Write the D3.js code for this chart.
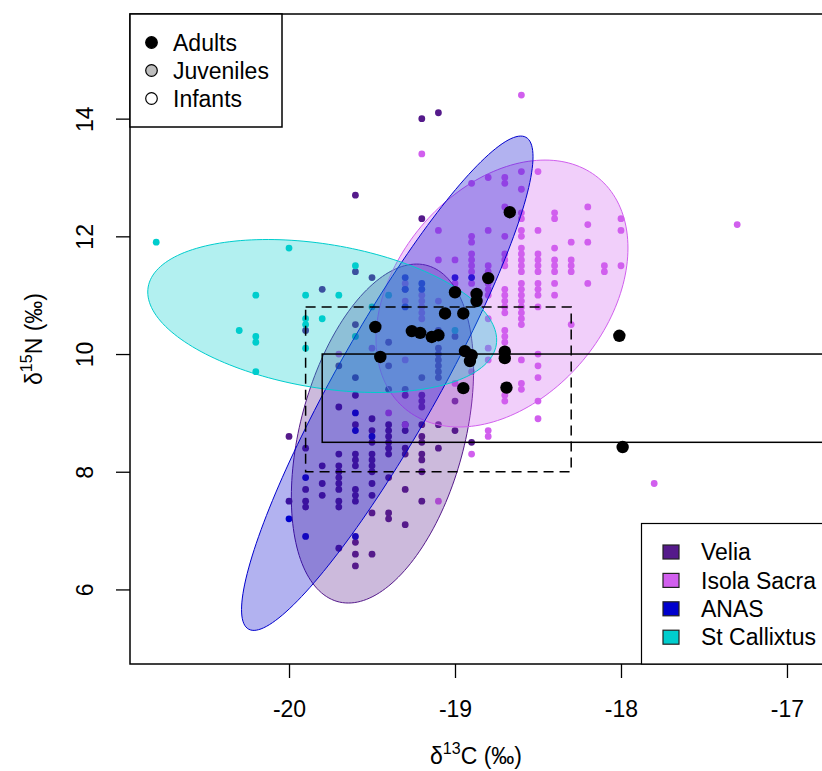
<!DOCTYPE html>
<html>
<head>
<meta charset="utf-8">
<script src="https://cdn.jsdelivr.net/npm/d3@7"></script>
<style>
  body { margin: 0; background: #fff; }
  text { font-family: "Liberation Sans", Arial, sans-serif; fill: #000; }
</style>
</head>
<body>
<svg id="chart" width="822" height="771"></svg>
<script>
// ---- axis settings ----
const xLimits = [-20.958, -16.789];
const yLimits = [4.733, 15.778];
const xTicks = [-20, -19, -18, -17];
const yTicks = [6, 8, 10, 12, 14];

// ---- sites ----
const siteNames  = ["Velia", "Isola Sacra", "ANAS", "St Callixtus"];
const siteColors = ["#551A8B", "#D15FEE", "#0000CD", "#00CDCD"];

// individual measurements [d13C, d15N]
const velia = [
  [-19.2,14.0],[-19.1,14.1],[-19.6,12.7],[-19.2,12.3],
  [-19.6,11.4],[-19.5,11.3],[-19.8,11.1],[-19.3,11.1],
  [-19.9,10.4],[-19.6,10.5],[-19.4,10.2],[-19.1,10.4],[-19.1,10.3],[-19.0,10.3],
  [-19.1,10.1],[-19.1,10.0],[-19.1,9.9],[-19.1,9.8],[-19.1,9.7],[-19.1,9.6],
  [-19.7,9.8],[-19.4,9.8],[-19.6,9.6],[-19.2,9.6],[-19.4,9.4],[-19.3,9.4],[-19.3,9.3],
  [-19.6,9.3],[-19.2,9.3],[-19.2,9.2],[-19.2,9.1],[-19.7,9.1],[-19.0,9.2],
  [-20.0,8.6],[-19.9,8.4],[-19.6,8.8],[-19.5,8.9],[-19.5,8.7],[-19.5,8.5],
  [-19.4,8.8],[-19.4,8.7],[-19.4,8.6],[-19.4,8.5],[-19.4,8.4],[-19.4,8.3],
  [-19.3,8.8],[-19.3,8.7],[-19.3,8.4],[-19.3,8.3],
  [-19.2,8.8],[-19.2,8.6],[-19.2,8.5],[-19.2,8.3],[-19.2,8.2],[-19.2,8.0],
  [-19.1,8.8],[-19.1,8.4],[-19.0,8.7],[-18.9,8.5],
  [-19.8,8.1],[-19.7,8.3],[-19.7,8.1],[-19.7,8.0],[-19.7,7.9],[-19.7,7.8],[-19.7,7.7],
  [-19.7,7.5],[-19.7,7.4],[-19.6,8.3],[-19.6,8.2],[-19.6,8.1],
  [-19.5,8.3],[-19.5,8.2],[-19.5,8.1],[-19.5,8.0],[-19.4,7.9],
  [-19.9,7.7],[-19.9,7.5],[-19.9,7.4],[-19.8,7.8],[-19.8,7.6],[-20.0,7.5],
  [-19.6,7.7],[-19.6,7.6],[-19.6,7.5],[-19.5,7.8],[-19.5,7.6],[-19.5,7.3],
  [-19.4,7.3],[-19.4,7.2],[-19.3,7.7],[-19.3,7.1],[-19.2,7.5],
  [-19.7,6.7],[-19.6,6.8],[-19.6,6.6],[-19.6,6.4],[-19.5,6.6]
];
const isolaSacra = [
  [-18.6,14.4],[-19.2,13.4],[-17.3,12.2],[-17.8,7.8],[-19.1,7.5],
  [-18.5,13.1],[-18.6,13.1],[-18.7,13.0],[-18.7,12.9],[-18.8,13.0],[-18.9,12.9],[-18.6,12.8],
  [-18.7,12.5],[-18.6,12.4],[-18.6,12.3],[-18.4,12.4],[-18.4,12.3],[-18.2,12.5],
  [-18.0,12.3],[-18.0,12.1],[-18.2,12.2],
  [-19.1,12.1],[-18.8,12.1],[-18.6,12.1],[-18.6,12.0],[-18.5,12.1],[-18.9,12.0],[-18.9,11.9],[-18.7,12.0],
  [-18.3,11.9],[-18.2,11.9],[-18.4,11.8],
  [-18.6,11.8],[-18.6,11.7],[-18.6,11.6],[-18.6,11.5],[-18.6,11.4],
  [-18.5,11.7],[-18.5,11.6],[-18.5,11.5],[-18.5,11.4],
  [-18.4,11.6],[-18.4,11.5],[-18.4,11.4],
  [-18.3,11.6],[-18.3,11.5],[-18.3,11.4],
  [-18.1,11.5],[-18.1,11.4],[-18.0,11.5],
  [-19.1,11.6],[-19.0,11.6],[-18.9,11.7],[-18.9,11.6],[-18.9,11.5],[-18.9,11.4],
  [-18.8,11.5],[-18.8,11.4],[-18.7,11.7],[-18.7,11.6],[-18.7,11.5],
  [-18.7,11.1],[-18.7,11.0],[-18.7,10.9],
  [-18.6,11.2],[-18.6,11.1],[-18.6,11.0],[-18.6,10.9],
  [-18.5,11.2],[-18.5,11.1],[-18.5,11.0],
  [-18.4,11.2],[-18.4,11.0],[-18.2,11.2],[-18.5,10.8],
  [-19.0,11.2],[-19.0,11.1],[-18.9,11.2],[-18.8,11.2],[-18.8,11.1],[-18.8,11.0],
  [-18.7,10.8],[-18.6,10.8],[-18.7,10.7],[-18.6,10.7],[-18.6,10.6],[-18.6,10.5],[-18.3,10.5],
  [-18.7,10.4],[-18.7,10.3],[-18.7,10.2],[-18.8,10.6],[-18.8,10.1],
  [-18.8,9.9],[-18.6,9.9],[-18.5,10.0],[-18.5,9.8],[-18.5,9.6],
  [-18.6,9.5],[-18.6,9.4],[-18.7,9.3],[-18.7,9.2],[-18.5,9.2],[-18.5,8.9],
  [-18.8,8.7],[-18.8,8.6],[-18.9,8.3],[-19.0,9.5],[-18.9,9.7],
  [-19.4,9.0],[-19.3,8.8],[-19.7,10.0],[-19.5,10.1],[-19.3,9.9],[-19.3,11.2],
  [-19.2,11.0],[-19.2,10.9],[-19.2,10.8],[-19.2,10.7],[-19.2,10.6],[-19.3,10.9],[-19.1,10.9]
];
const anas = [
  [-19.0,11.3],[-18.9,11.3],[-19.3,11.3],[-19.2,11.2],[-19.2,11.1],[-19.3,11.1],[-19.3,10.8],
  [-19.6,9.0],[-19.6,8.7],[-19.5,8.6],[-19.9,7.9],[-20.0,7.2],[-19.9,6.9],[-19.6,6.9]
];
const stCallixtus = [
  [-20.8,11.9],[-20.0,11.8],[-20.2,11.0],[-20.3,10.4],[-20.2,10.3],[-20.2,10.2],[-20.2,9.7],
  [-19.9,11.0],[-19.7,11.0],[-19.8,10.6],[-19.9,10.6],[-19.9,10.5],[-19.9,10.1],
  [-19.6,11.5],[-19.6,10.3],[-19.4,11.0],[-19.5,10.8],[-19.0,10.4]
];
const siteData = [velia, isolaSacra, anas, stCallixtus];

// adult individuals of the study group
const adults = [
  [-19.48,10.46],[-19.45,9.95],[-19.26,10.39],[-19.21,10.36],[-19.14,10.29],[-19.10,10.32],
  [-19.06,10.69],[-19.00,11.05],[-18.95,10.69],[-18.94,10.05],[-18.90,9.98],[-18.91,9.88],
  [-18.95,9.42],[-18.87,11.02],[-18.87,10.90],[-18.80,11.29],[-18.67,12.41],
  [-18.70,10.04],[-18.70,9.93],[-18.69,9.43],[-18.01,10.31],[-17.99,8.42]
];

// standard ellipses: centre, half-extent on each axis and correlation
const ellipseCentreC = [-19.437, -18.717, -19.408, -19.80];
const ellipseCentreN = [8.649, 11.028, 9.504, 10.646];
const ellipseRadC    = [0.549, 0.759, 0.878, 1.051];
const ellipseRadN    = [2.880, 2.268, 4.200, 1.300];
const ellipseRho     = [0.375, 0.341, 0.916, -0.314];

// reference ranges
const dashedRangeC = [-19.9, -18.3];
const dashedRangeN = [8.0, 10.8];
const solidRangeC  = [-19.8, -16.0];
const solidRangeN  = [8.5, 10.0];

// age legend
const ageLabels = ["Adults", "Juveniles", "Infants"];
const ageFills  = ["#000000", "#BEBEBE", "#FFFFFF"];

// ---- drawing ----
const svg = d3.select("#chart");
const plot = { left: 130, top: 14, right: 822, bottom: 664 };

const x = d3.scaleLinear().domain(xLimits).range([plot.left, plot.right]);
const y = d3.scaleLinear().domain(yLimits).range([plot.bottom, plot.top]);

svg.append("defs").append("clipPath").attr("id", "plotClip")
  .append("rect")
  .attr("x", plot.left).attr("y", plot.top)
  .attr("width", plot.right - plot.left).attr("height", plot.bottom - plot.top);

const g = svg.append("g").attr("clip-path", "url(#plotClip)");

// site points
siteData.forEach((pts, i) => {
  g.append("g").selectAll("circle").data(pts).join("circle")
    .attr("cx", d => x(d[0])).attr("cy", d => y(d[1]))
    .attr("r", 3.4).attr("fill", siteColors[i]);
});

// ellipses
const ellipseLine = d3.line().x(d => x(d[0])).y(d => y(d[1])).curve(d3.curveLinearClosed);
siteNames.forEach((name, i) => {
  const rho = ellipseRho[i];
  const pts = d3.range(0, 360, 2).map(a => {
    const t = a * Math.PI / 180;
    return [
      ellipseCentreC[i] + ellipseRadC[i] * Math.cos(t),
      ellipseCentreN[i] + ellipseRadN[i] * (rho * Math.cos(t) + Math.sqrt(1 - rho * rho) * Math.sin(t))
    ];
  });
  g.append("path").attr("d", ellipseLine(pts))
    .attr("fill", siteColors[i]).attr("fill-opacity", 0.3)
    .attr("stroke", siteColors[i]).attr("stroke-width", 1);
});

// reference boxes
g.append("rect")
  .attr("x", x(dashedRangeC[0])).attr("y", y(dashedRangeN[1]))
  .attr("width", x(dashedRangeC[1]) - x(dashedRangeC[0]))
  .attr("height", y(dashedRangeN[0]) - y(dashedRangeN[1]))
  .attr("fill", "none").attr("stroke", "#000").attr("stroke-width", 1.5)
  .attr("stroke-dasharray", "10,6");
g.append("rect")
  .attr("x", x(solidRangeC[0])).attr("y", y(solidRangeN[1]))
  .attr("width", x(solidRangeC[1]) - x(solidRangeC[0]))
  .attr("height", y(solidRangeN[0]) - y(solidRangeN[1]))
  .attr("fill", "none").attr("stroke", "#000").attr("stroke-width", 1.5);

// adults
g.append("g").selectAll("circle").data(adults).join("circle")
  .attr("cx", d => x(d[0])).attr("cy", d => y(d[1]))
  .attr("r", 6.2).attr("fill", "#000");

// plot frame
svg.append("rect")
  .attr("x", plot.left).attr("y", plot.top)
  .attr("width", plot.right + 20 - plot.left).attr("height", plot.bottom - plot.top)
  .attr("fill", "none").attr("stroke", "#000").attr("stroke-width", 1.5);

// x axis
const xAxis = svg.append("g").attr("transform", `translate(0,${plot.bottom})`)
  .call(d3.axisBottom(x).tickValues(xTicks).tickSize(14).tickFormat(d3.format("d")));
xAxis.select(".domain").remove();
xAxis.selectAll(".tick line").attr("stroke-width", 1.3);
xAxis.selectAll(".tick text").attr("font-size", 23).attr("y", 45).attr("dy", "0.35em")
  .attr("font-family", "Liberation Sans, Arial, sans-serif").attr("fill", "#000")
  .text(d => d3.format("d")(d).replace("\u2212", "-"));

// y axis
const yAxis = svg.append("g").attr("transform", `translate(${plot.left},0)`)
  .call(d3.axisLeft(y).tickValues(yTicks).tickSize(14).tickFormat(d3.format("d")));
yAxis.select(".domain").remove();
yAxis.selectAll(".tick line").attr("stroke-width", 1.3);
yAxis.selectAll(".tick text")
  .attr("font-size", 23).attr("font-family", "Liberation Sans, Arial, sans-serif").attr("fill", "#000")
  .attr("x", null).attr("text-anchor", "middle")
  .attr("transform", "translate(-45,0) rotate(-90)").attr("dy", "0.35em");

// axis titles
const xTitle = svg.append("text").attr("x", (plot.left + plot.right) / 2).attr("y", 764)
  .attr("text-anchor", "middle").attr("font-size", 23);
xTitle.append("tspan").text("\u03b4");
xTitle.append("tspan").attr("font-size", 16).attr("dy", -10).text("13");
xTitle.append("tspan").attr("dy", 10).text("C (\u2030)");

const yTitle = svg.append("text")
  .attr("transform", `translate(42,${(plot.top + plot.bottom) / 2}) rotate(-90)`)
  .attr("text-anchor", "middle").attr("font-size", 23);
yTitle.append("tspan").text("\u03b4");
yTitle.append("tspan").attr("font-size", 16).attr("dy", -10).text("15");
yTitle.append("tspan").attr("dy", 10).text("N (\u2030)");

// age legend
const ageLeg = svg.append("g");
ageLeg.append("rect").attr("x", plot.left).attr("y", plot.top)
  .attr("width", 152).attr("height", 113)
  .attr("fill", "#fff").attr("stroke", "#000").attr("stroke-width", 1.5);
ageLabels.forEach((lab, i) => {
  const cy = 42.5 + i * 28;
  ageLeg.append("circle").attr("cx", 151.5).attr("cy", cy).attr("r", 5.8)
    .attr("fill", ageFills[i]).attr("stroke", "#000").attr("stroke-width", 1.2);
  ageLeg.append("text").attr("x", 173).attr("y", cy).attr("dy", "0.36em")
    .attr("font-size", 23).text(lab);
});

// site legend
const siteLeg = svg.append("g");
siteLeg.append("rect").attr("x", 641.5).attr("y", 523.5)
  .attr("width", 220).attr("height", plot.bottom - 523.5)
  .attr("fill", "#fff").attr("stroke", "#000").attr("stroke-width", 1.2);
siteNames.forEach((name, i) => {
  const cy = 552 + i * 28.4;
  siteLeg.append("rect").attr("x", 663).attr("y", cy - 7).attr("width", 16).attr("height", 14)
    .attr("fill", siteColors[i]).attr("stroke", "#222").attr("stroke-width", 1.2);
  siteLeg.append("text").attr("x", 701).attr("y", cy).attr("dy", "0.36em")
    .attr("font-size", 23).text(name);
});
</script>
</body>
</html>
